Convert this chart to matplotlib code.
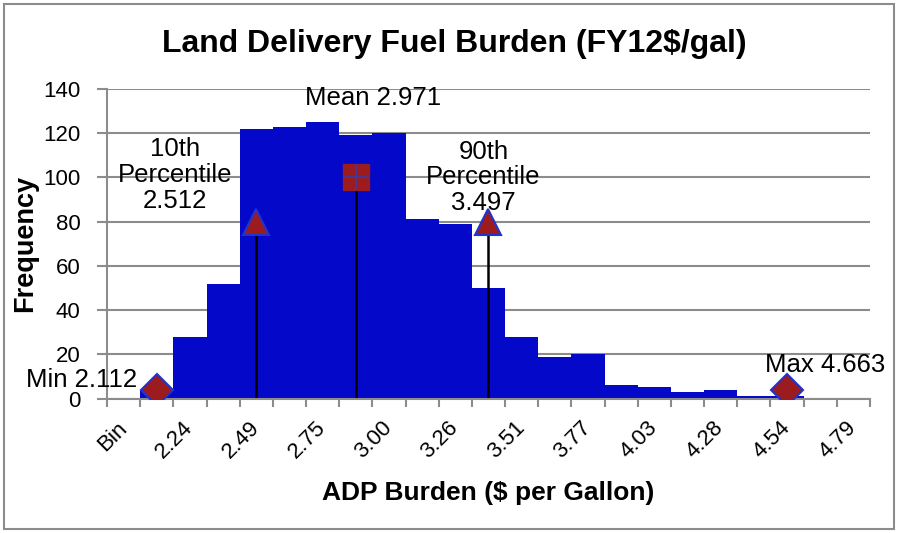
import matplotlib.pyplot as plt
from matplotlib.patches import Rectangle
from matplotlib.ticker import FixedLocator, NullFormatter

plt.rcParams['font.family'] = ['Liberation Sans', 'DejaVu Sans']

# histogram categories (Excel bin table, every category gets a slot)
bins = ['Bin', '2.11', '2.24', '2.37', '2.49', '2.62', '2.75', '2.88', '3.00',
        '3.13', '3.26', '3.39', '3.51', '3.64', '3.77', '3.90', '4.03', '4.15',
        '4.28', '4.41', '4.54', '4.66', '4.79']
freq = [0, 4, 28, 52, 122, 123, 125, 119, 120, 81, 79, 50, 28, 19, 20, 6, 5,
        3, 4, 1, 1, 0, 0]

# summary statistics drawn as markers (x = category slot)
stat_names = ['Min', '10th Percentile', 'Mean', '90th Percentile', 'Max']
stat_values = ['2.112', '2.512', '2.971', '3.497', '4.663']
stat_x = [1, 4, 7, 11, 20]
stat_y = [4, 80, 100, 80, 4]

bar_color = '#0408C8'
mark_color = '#9B1B1E'
edge_color = '#2233CC'

fig = plt.figure(figsize=(8.99, 5.33), dpi=100)
ax = fig.add_axes([0.119, 0.2523, 0.8487, 0.5807])

x = list(range(len(bins)))
ax.bar(x, freq, width=1.0, color=bar_color, zorder=2)

# drop lines for percentiles and mean
for i in [1, 2, 3]:
    ax.plot([stat_x[i], stat_x[i]], [0, stat_y[i]], color='black', lw=1.8, zorder=3)

ax.plot([stat_x[0], stat_x[4]], [stat_y[0], stat_y[4]], ls='none', marker='D',
        ms=16, mfc=mark_color, mec=edge_color, mew=1.5, zorder=5)
ax.plot([stat_x[1], stat_x[3]], [stat_y[1], stat_y[3]], ls='none', marker='^',
        ms=19, mfc=mark_color, mec=edge_color, mew=1.5, zorder=5)
ax.plot([stat_x[2]], [stat_y[2]], ls='none', marker='s', ms=19,
        mfc=mark_color, mec=mark_color, zorder=5)
ax.plot([stat_x[2]], [stat_y[2]], ls='none', marker='+', ms=19,
        mec='#3a3aa8', mew=1.2, zorder=6)

fs = 18.5
ax.text(0.40, 8.4, stat_names[0] + ' ' + stat_values[0], ha='right', va='center',
        fontsize=fs, clip_on=False, zorder=7)
ax.text(1.55, 101, '10th\nPercentile\n' + stat_values[1], ha='center', va='center',
        fontsize=fs, linespacing=1.1, zorder=7)
ax.text(7.53, 136, stat_names[2] + ' ' + stat_values[2], ha='center', va='center',
        fontsize=fs, zorder=7)
ax.text(10.85, 100, '90th\nPercentile\n' + stat_values[3], ha='center', va='center',
        fontsize=fs, linespacing=1.1, zorder=7)
ax.text(21.15, 15.2, stat_names[4] + ' ' + stat_values[4], ha='center', va='center',
        fontsize=fs, clip_on=False, zorder=7)

ax.set_xlim(-0.5, len(bins) - 0.5)
ax.set_ylim(0, 140)
ax.set_yticks(range(0, 141, 20))
ax.yaxis.grid(True, color='#8c8c8c', lw=1.5, zorder=0)
ax.set_axisbelow(True)

# tick marks on category borders, labels on every other category centre
ax.xaxis.set_major_locator(FixedLocator([i - 0.5 for i in range(len(bins) + 1)]))
ax.xaxis.set_major_formatter(NullFormatter())
lab_pos = x[::2]
ax.xaxis.set_minor_locator(FixedLocator(lab_pos))
ax.set_xticklabels([bins[i] for i in lab_pos], minor=True, rotation=45,
                   ha='right', va='center', rotation_mode='anchor')
ax.tick_params(axis='x', which='major', length=6, width=1.5, color='#8c8c8c', direction='out')
ax.tick_params(axis='x', which='minor', length=0, pad=19, labelsize=16)
ax.tick_params(axis='y', length=7, width=1.5, color='#8c8c8c', labelsize=16, pad=12)

for s in ['top', 'right']:
    ax.spines[s].set_visible(False)
for s in ['left', 'bottom']:
    ax.spines[s].set_color('#8c8c8c')
    ax.spines[s].set_linewidth(1.5)
    ax.spines[s].set_zorder(4)

fig.text(454 / 899, 1 - 44 / 533, 'Land Delivery Fuel Burden (FY12$/gal)', ha='center',
         va='center', fontsize=23, fontweight='bold')
fig.text(488 / 899, 1 - 493 / 533, 'ADP Burden ($ per Gallon)', ha='center',
         va='center', fontsize=19, fontweight='bold')
fig.text(25 / 899, 1 - 243 / 533, 'Frequency', ha='center', va='center',
         rotation=90, fontsize=19.5, fontweight='bold')

fig.patches.append(Rectangle((0.004, 0.008), 0.99, 0.985, transform=fig.transFigure,
                             fill=False, edgecolor='#8c8c8c', lw=1.5))

fig.savefig('out.png', dpi=100)
